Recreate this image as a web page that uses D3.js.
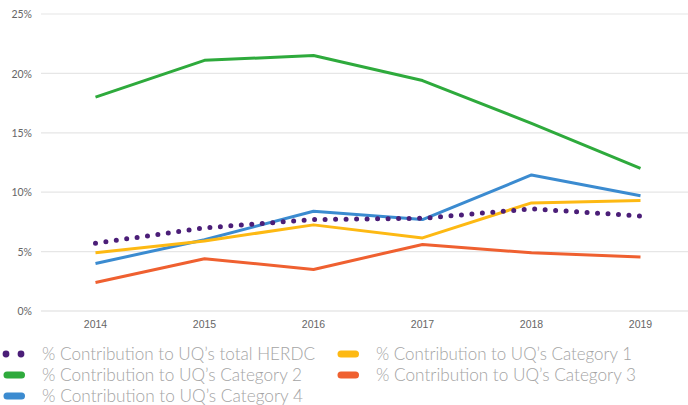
<!DOCTYPE html>
<html><head><meta charset="utf-8">
<script src="https://cdn.jsdelivr.net/npm/d3@7"></script>
<style>body{margin:0;background:#fff}svg{display:block}</style>
</head><body><svg id="c" width="688" height="405"></svg>
<script>
const years = ["2014","2015","2016","2017","2018","2019"];
const herdc = [5.7, 7.0, 7.7, 7.8, 8.6, 8.0];
const cat1 = [4.9, 5.9, 7.25, 6.15, 9.1, 9.3];
const cat2 = [18.0, 21.1, 21.5, 19.4, 15.8, 12.0];
const cat3 = [2.4, 4.4, 3.5, 5.6, 4.9, 4.55];
const cat4 = [4.0, 6.0, 8.4, 7.7, 11.45, 9.7];
const yTicks = [0, 5, 10, 15, 20, 25];
const seriesNames = ["% Contribution to UQ\u2019s total HERDC","% Contribution to UQ\u2019s Category 1","% Contribution to UQ\u2019s Category 2","% Contribution to UQ\u2019s Category 3","% Contribution to UQ\u2019s Category 4"];
const colors = ["#4b1e78","#fdb913","#2eaa3c","#ef6030","#3b8bd0"];
const legendWidths = [273, 256, 260, 260, 261];

const series = [herdc, cat1, cat2, cat3, cat4].map((v,i)=>({name:seriesNames[i], values:v, color:colors[i], dotted:i===0}));

const svg = d3.select("#c");
const x = d3.scaleBand().domain(years).range([41, 695]).padding(0);
const y = d3.scaleLinear().domain([0,25]).range([311, 14]);

const yAxis = d3.axisLeft(y).tickValues(yTicks).tickSize(0).tickFormat(d=>d+"%");
const yg = svg.append("g").attr("transform","translate(32,0)").call(yAxis);
yg.select(".domain").remove();
yg.selectAll("text").attr("fill","#666").attr("font-family","Lato, 'Open Sans', sans-serif").attr("font-size","10.5px").attr("x",0).attr("dy","0.35em");
svg.append("g").selectAll("line").data(yTicks).join("line")
  .attr("x1",41).attr("x2",688).attr("y1",d=>y(d)).attr("y2",d=>y(d))
  .attr("stroke",d=>d===0?"#dcdcdc":"#e6e6e6").attr("stroke-width",1.2);

const xAxis = d3.axisBottom(x).tickSize(0);
const xg = svg.append("g").attr("transform","translate(0,311)").call(xAxis);
xg.select(".domain").remove();
xg.selectAll("text").attr("fill","#666").attr("font-family","'Liberation Sans', Arial, sans-serif").attr("font-size","10.5px").attr("y",13).attr("dy","0.35em");

const line = d3.line().x((d,i)=>x(years[i])+x.bandwidth()/2).y(d=>y(d));
const drawOrder = [2,4,1,3,0];
drawOrder.forEach(i=>{
  const s = series[i];
  const p = svg.append("path").attr("d", line(s.values)).attr("fill","none").attr("stroke", s.color);
  if (s.dotted) p.attr("stroke-width",5).attr("stroke-linecap","round").attr("stroke-dasharray","0 10.5");
  else p.attr("stroke-width",3).attr("stroke-linejoin","round");
});

// legend
const legendPos = [[0,0],[1,0],[0,1],[1,1],[0,2]];
const lg = svg.append("g");
series.forEach((s,i)=>{
  const [c,r] = legendPos[i];
  const gx = c===0 ? 0 : 334;
  const gy = 354 + r*21;
  const g = lg.append("g").attr("transform",`translate(${gx},${gy})`);
  if (s.dotted) {
    g.selectAll("circle").data([6,21]).join("circle").attr("cx",d=>d).attr("cy",0).attr("r",3.4).attr("fill",s.color);
  } else {
    g.append("line").attr("x1",7).attr("x2",21.5).attr("y1",0).attr("y2",0).attr("stroke",s.color).attr("stroke-width",7).attr("stroke-linecap","round");
  }
  g.append("text").attr("x",42).attr("y",0).attr("dy","0.35em").text(s.name)
    .attr("textLength",legendWidths[i]).attr("lengthAdjust","spacingAndGlyphs")
    .attr("fill","#a4a4a4").attr("font-family","Lato, 'Open Sans', sans-serif").attr("font-size","18px").attr("font-weight",300);
});
</script></body></html>
